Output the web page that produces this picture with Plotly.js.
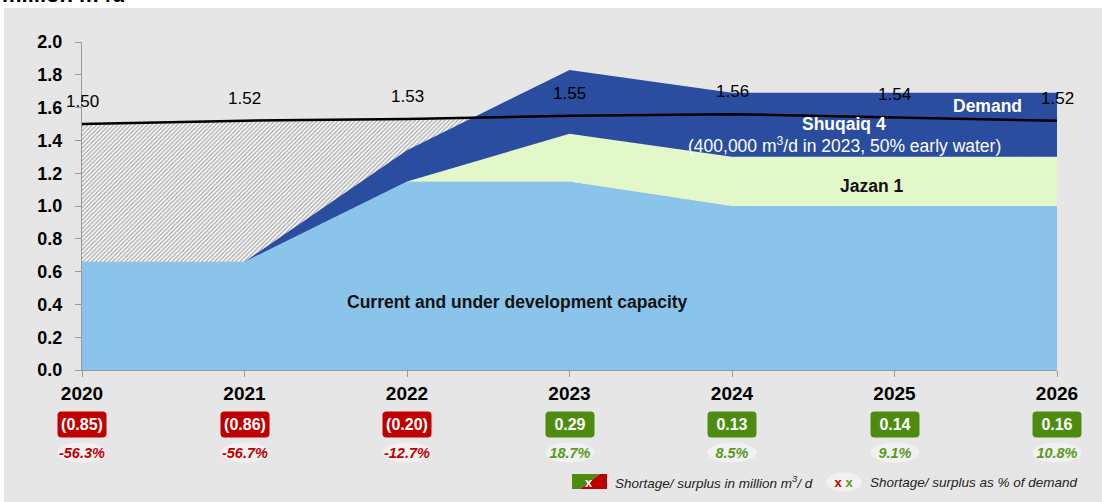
<!DOCTYPE html>
<html>
<head>
<meta charset="utf-8">
<script src="https://cdn.plot.ly/plotly-3.0.1.min.js"></script>
<style>
  html, body { margin: 0; padding: 0; background: #ffffff; }
  #chart { width: 1102px; height: 502px; }
</style>
</head>
<body>
<div id="chart"></div>
<script>
// ---- data ----
const years = [2020, 2021, 2022, 2023, 2024, 2025, 2026];
const yearLabels = ['2020', '2021', '2022', '2023', '2024', '2025', '2026'];
const capacity = [0.66, 0.66, 1.15, 1.15, 1.00, 1.00, 1.00];
const jazan1 = [0, 0, 0, 0.29, 0.30, 0.30, 0.30];
const shuqaiq4 = [0, 0, 0.19, 0.39, 0.39, 0.39, 0.39];
const demand = [1.50, 1.52, 1.53, 1.55, 1.56, 1.54, 1.52];
const gapMillion = [-0.85, -0.86, -0.20, 0.29, 0.13, 0.14, 0.16];
const gapPercent = [-56.3, -56.7, -12.7, 18.7, 8.5, 9.1, 10.8];

// ---- geometry helpers (layout only) ----
const W = 1102, H = 502, ML = 82, MR = 45, MT = 42, MB = 132;
const PW = W - ML - MR, PH = H - MT - MB;
const fx = px => (px - ML) / PW;
const fy = py => (H - MB - py) / PH;

const RED = '#C00000', GREEN = '#4E8C10', GREEN_TXT = '#5A9A1E';
const FONT = 'Arial, "Liberation Sans", sans-serif';

const traces = [
  { // shortage hatch (demand area, covered by supply)
    x: years, y: demand, type: 'scatter', mode: 'none', fill: 'tozeroy',
    fillcolor: '#ffffff',
    fillpattern: { shape: '/', fgcolor: '#b3b3b3', bgcolor: '#ffffff', size: 3, solidity: 0.5 },
    hoverinfo: 'skip', showlegend: false
  },
  {
    x: years, y: capacity, type: 'scatter', mode: 'none', stackgroup: 'supply',
    fillcolor: '#8BC4EA', name: 'Current and under development capacity', showlegend: false
  },
  {
    x: years, y: jazan1, type: 'scatter', mode: 'none', stackgroup: 'supply',
    fillcolor: '#E2F8C9', name: 'Jazan 1', showlegend: false
  },
  {
    x: years, y: shuqaiq4, type: 'scatter', mode: 'none', stackgroup: 'supply',
    fillcolor: '#2A4D9F', name: 'Shuqaiq 4', showlegend: false
  },
  {
    x: years, y: demand, type: 'scatter', mode: 'lines',
    line: { color: '#000000', width: 2.5 }, name: 'Demand', showlegend: false
  }
];

const annotations = [];
const roles = [];
function addAnn(a, role) {
  annotations.push(Object.assign({ xanchor: 'center', yanchor: 'middle', showarrow: false }, a));
  roles.push(role || '');
}

// demand value labels
years.forEach((yr, i) => {
  addAnn({ x: yr, y: demand[i], xref: 'x', yref: 'y', text: demand[i].toFixed(2),
    yanchor: 'bottom', yshift: 11,
    font: { family: FONT, size: 17, color: '#000000' } });
});

// badges and percentages
years.forEach((yr, i) => {
  const v = gapMillion[i];
  const txt = v < 0 ? '(' + Math.abs(v).toFixed(2) + ')' : v.toFixed(2);
  addAnn({ x: yr, y: fy(424), xref: 'x', yref: 'paper', text: '<b>' + txt + '</b>',
    width: 48, height: 25, bgcolor: v < 0 ? RED : GREEN, borderpad: 0,
    font: { family: FONT, size: 16, color: '#ffffff' } }, 'badge');
  const p = gapPercent[i];
  addAnn({ x: yr, y: fy(452), xref: 'x', yref: 'paper', text: '<b><i>' + p.toFixed(1) + '%</i></b>',
    width: 48, height: 19, bgcolor: '#F1F1F1', borderpad: 0,
    font: { family: FONT, size: 14.5, color: p < 0 ? RED : GREEN_TXT } }, 'oval');
});

// area labels
addAnn({ x: 2022.68, y: 0.415, xref: 'x', yref: 'y',
  text: '<b>Current and under development capacity</b>',
  font: { family: FONT, size: 17.5, color: '#111111' } });
addAnn({ x: 2024.86, y: 1.122, xref: 'x', yref: 'y',
  text: '<b>Jazan 1</b>', font: { family: FONT, size: 17.5, color: '#111111' } });
addAnn({ x: 2024.69, y: 1.50, xref: 'x', yref: 'y',
  text: '<b>Shuqaiq 4</b>', font: { family: FONT, size: 17.5, color: '#ffffff' } });
addAnn({ x: 2024.69, y: 1.372, xref: 'x', yref: 'y',
  text: '(400,000 m<sup>3</sup>/d in 2023, 50% early water)', font: { family: FONT, size: 17.5, color: '#ffffff' } });
addAnn({ x: 2025.575, y: 1.61, xref: 'x', yref: 'y',
  text: '<b>Demand</b>', font: { family: FONT, size: 17.5, color: '#ffffff' } });

// clipped title at top
addAnn({ x: fx(0), y: fy(9), xref: 'paper', yref: 'paper', xanchor: 'left', yanchor: 'bottom',
  text: '<b>million m³/d</b>', font: { family: FONT, size: 22, color: '#000000' } });

// bottom legend
addAnn({ x: fx(589), y: fy(482), xref: 'paper', yref: 'paper',
  text: '<b>x</b>', font: { family: FONT, size: 13, color: '#ffffff' } });
addAnn({ x: fx(613), y: fy(482), xref: 'paper', yref: 'paper', xanchor: 'left',
  text: '<i>Shortage/ surplus in million m<sup>3</sup>/ d</i>', font: { family: FONT, size: 13.5, color: '#222222' } });
addAnn({ x: fx(844), y: fy(482), xref: 'paper', yref: 'paper',
  width: 34, height: 18, bgcolor: '#F1F1F1', borderpad: 0,
  text: '<b><span style="color:#C00000">x</span> <span style="color:#5A9A1E">x</span></b>',
  font: { family: FONT, size: 13, color: '#222222' } }, 'oval');
addAnn({ x: fx(868), y: fy(482), xref: 'paper', yref: 'paper', xanchor: 'left',
  text: '<i>Shortage/ surplus as % of demand</i>', font: { family: FONT, size: 13.5, color: '#222222' } });

const shapes = [
  { type: 'rect', xref: 'paper', yref: 'paper', x0: fx(4), x1: fx(1102), y0: fy(502), y1: fy(8),
    fillcolor: '#E6E6E6', line: { width: 0 }, layer: 'below' },
  { type: 'path', xref: 'paper', yref: 'paper', layer: 'above', line: { width: 0 }, fillcolor: GREEN,
    path: `M ${fx(572)},${fy(474)} L ${fx(600)},${fy(474)} L ${fx(580)},${fy(489)} L ${fx(572)},${fy(489)} Z` },
  { type: 'path', xref: 'paper', yref: 'paper', layer: 'above', line: { width: 0 }, fillcolor: RED,
    path: `M ${fx(600)},${fy(474)} L ${fx(607)},${fy(474)} L ${fx(607)},${fy(489)} L ${fx(580)},${fy(489)} Z` }
];

const layout = {
  width: W, height: H,
  margin: { l: ML, r: MR, t: MT, b: MB, pad: 0 },
  paper_bgcolor: '#ffffff',
  plot_bgcolor: 'rgba(0,0,0,0)',
  showlegend: false,
  font: { family: FONT },
  xaxis: {
    range: [2020, 2026], tickvals: years, ticktext: yearLabels,
    showgrid: false, zeroline: false, showline: true, linecolor: '#999999', linewidth: 1,
    ticks: 'outside', ticklen: 6, tickcolor: '#999999', ticklabelstandoff: 0,
    tickfont: { family: FONT, size: 19, color: '#000000', weight: 'bold' }
  },
  yaxis: {
    range: [0, 2], dtick: 0.2, tick0: 0, tickformat: '.1f',
    showgrid: false, zeroline: false, showline: true, linecolor: '#999999', linewidth: 1,
    ticks: 'outside', ticklen: 6, tickcolor: '#999999', ticklabelstandoff: 9,
    tickfont: { family: FONT, size: 18, color: '#000000', weight: 'bold' }
  },
  annotations: annotations,
  shapes: shapes
};

Plotly.newPlot('chart', traces, layout, { displayModeBar: false, staticPlot: true }).then(gd => {
  gd.querySelectorAll('g.annotation').forEach(g => {
    const idx = +g.getAttribute('data-index');
    const rect = g.querySelector('rect.bg');
    if (!rect) return;
    if (roles[idx] === 'badge') {
      rect.setAttribute('rx', 4); rect.setAttribute('ry', 4);
    } else if (roles[idx] === 'oval') {
      const w = +rect.getAttribute('width'), h = +rect.getAttribute('height');
      rect.setAttribute('rx', w / 2); rect.setAttribute('ry', h / 2);
    }
  });
});
</script>
</body>
</html>
